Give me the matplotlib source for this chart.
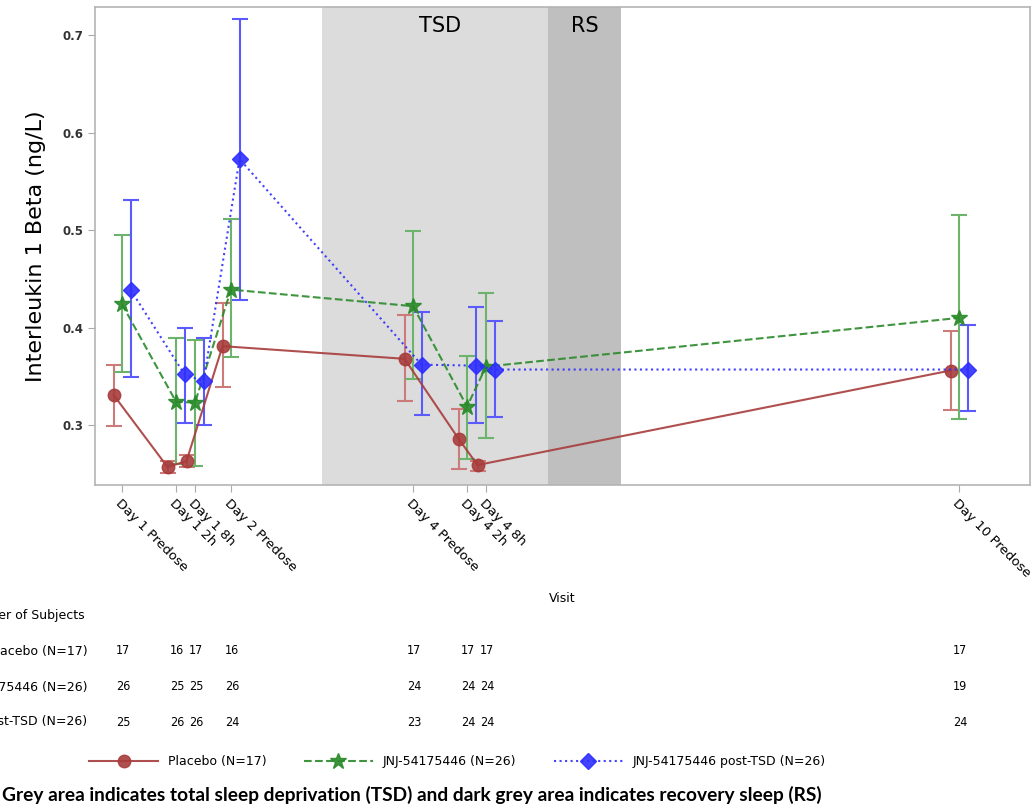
import matplotlib.pyplot as plt
import matplotlib.transforms as mtrans
import numpy as np

# visits and their position on the x axis (visit spacing as drawn in the original)
visits = ["Day 1 Predose", "Day 1 2h", "Day 1 8h", "Day 2 Predose",
          "Day 4 Predose", "Day 4 2h", "Day 4 8h", "Day 10 Predose"]
visit_pos = [0, 54, 73, 109, 291, 345, 364, 837]

# Placebo (N=17)
pbo_mean = [0.331, 0.257, 0.263, 0.381, 0.368, 0.286, 0.259, 0.356]
pbo_low = [0.299, 0.251, 0.257, 0.339, 0.325, 0.255, 0.253, 0.315]
pbo_high = [0.362, 0.263, 0.269, 0.425, 0.413, 0.316, 0.263, 0.397]
pbo_n = [17, 16, 17, 16, 17, 17, 17, 17]

# JNJ-54175446 (N=26)
jnj_mean = [0.424, 0.324, 0.323, 0.439, 0.422, 0.319, 0.360, 0.410]
jnj_low = [0.354, 0.260, 0.258, 0.370, 0.347, 0.265, 0.287, 0.306]
jnj_high = [0.495, 0.389, 0.387, 0.511, 0.499, 0.371, 0.436, 0.516]
jnj_n = [26, 25, 25, 26, 24, 24, 24, 19]

# JNJ-54175446 post-TSD (N=26)
post_mean = [0.439, 0.352, 0.345, 0.573, 0.362, 0.361, 0.357, 0.357]
post_low = [0.349, 0.302, 0.300, 0.428, 0.310, 0.302, 0.308, 0.314]
post_high = [0.531, 0.400, 0.389, 0.717, 0.416, 0.421, 0.407, 0.403]
post_n = [25, 26, 26, 24, 23, 24, 24, 24]

tsd_span = (200, 426)
rs_span = (426, 499)

fig = plt.figure(figsize=(10.35, 8.07), dpi=100)
ax = fig.add_axes([0.0918, 0.399, 0.9034, 0.5923])

ax.axvspan(*tsd_span, color="#dcdcdc", lw=0, zorder=0)
ax.axvspan(*rs_span, color="#bfbfbf", lw=0, zorder=0)
ax.text(np.mean(tsd_span) + 5, 0.71, "TSD", ha="center", va="center", fontsize=15)
ax.text(np.mean(rs_span), 0.71, "RS", ha="center", va="center", fontsize=15)

x = np.array(visit_pos, dtype=float)
groups = [
    ("Placebo (N=17)", pbo_mean, pbo_low, pbo_high, -8.5, "#a83c3c", "#cc7a7a", "-", "o", 9),
    ("JNJ-54175446 (N=26)", jnj_mean, jnj_low, jnj_high, 0, "#2a8a2a", "#6cb46c", "--", "*", 12),
    ("JNJ-54175446 post-TSD (N=26)", post_mean, post_low, post_high, 8.5, "#2e2eff", "#5a5aff", ":", "D", 8),
]
handles = []
for label, m, lo, hi, off, col, ecol, ls, mk, ms in groups:
    m = np.array(m)
    yerr = [m - np.array(lo), np.array(hi) - m]
    ax.errorbar(x + off, m, yerr=yerr, fmt="none", ecolor=ecol, elinewidth=1.5,
                capsize=6, capthick=1.5, zorder=2)
    h, = ax.plot(x + off, m, ls=ls, color=col, lw=1.5, marker=mk, ms=ms,
                 mec=col, mfc=col, alpha=0.9, label=label, zorder=3)
    handles.append(h)

ax.set_xlim(-27, 908)
ax.set_ylim(0.2385, 0.729)
ax.set_yticks([0.3, 0.4, 0.5, 0.6, 0.7])
ax.set_yticklabels(["0.3", "0.4", "0.5", "0.6", "0.7"], fontsize=8.5, color="#333333",
                   fontweight="bold")
ax.set_xticks(visit_pos)
ax.set_xticklabels(visits, rotation=-45, ha="left", va="top", fontsize=9.5,
                   rotation_mode="anchor")
ax.tick_params(axis="both", color="#aaaaaa", length=5)
for sp in ax.spines.values():
    sp.set_color("#b4b4b4")
    sp.set_linewidth(1.2)
ax.set_ylabel("Interleukin 1 Beta (ng/L)", fontsize=16, labelpad=12)

# number of subjects table under the plot
trans = mtrans.blended_transform_factory(ax.transData, fig.transFigure)
fig.text(562 / 1035, 1 - 598 / 807, "Visit", ha="center", va="center", fontsize=9)
fig.text(85 / 1035, 1 - 616 / 807, "Number of Subjects", ha="right", va="center", fontsize=9)
rows = [("Placebo (N=17)", pbo_n, 651), ("JNJ-54175446 (N=26)", jnj_n, 687),
        ("JNJ-54175446 post-TSD (N=26)", post_n, 722)]
for label, counts, ypx in rows:
    yf = 1 - ypx / 807
    fig.text(88 / 1035, yf, label, ha="right", va="center", fontsize=9)
    for xp, n in zip(visit_pos, counts):
        ax.text(xp + 1, yf, str(n), transform=trans, ha="center", va="center",
                fontsize=9, fontstretch="condensed")

fig.legend(handles=handles, loc="center", bbox_to_anchor=(0.442, 1 - 762 / 807),
           ncol=3, frameon=False, fontsize=9, handlelength=5.5, columnspacing=3)

fig.text(0.002, 1 - 795 / 807, "Grey area indicates total sleep deprivation (TSD) and "
         "dark grey area indicates recovery sleep (RS)", ha="left", va="center",
         fontsize=13.8, fontweight="bold", family="Lato")

fig.savefig("out.png", dpi=100)
